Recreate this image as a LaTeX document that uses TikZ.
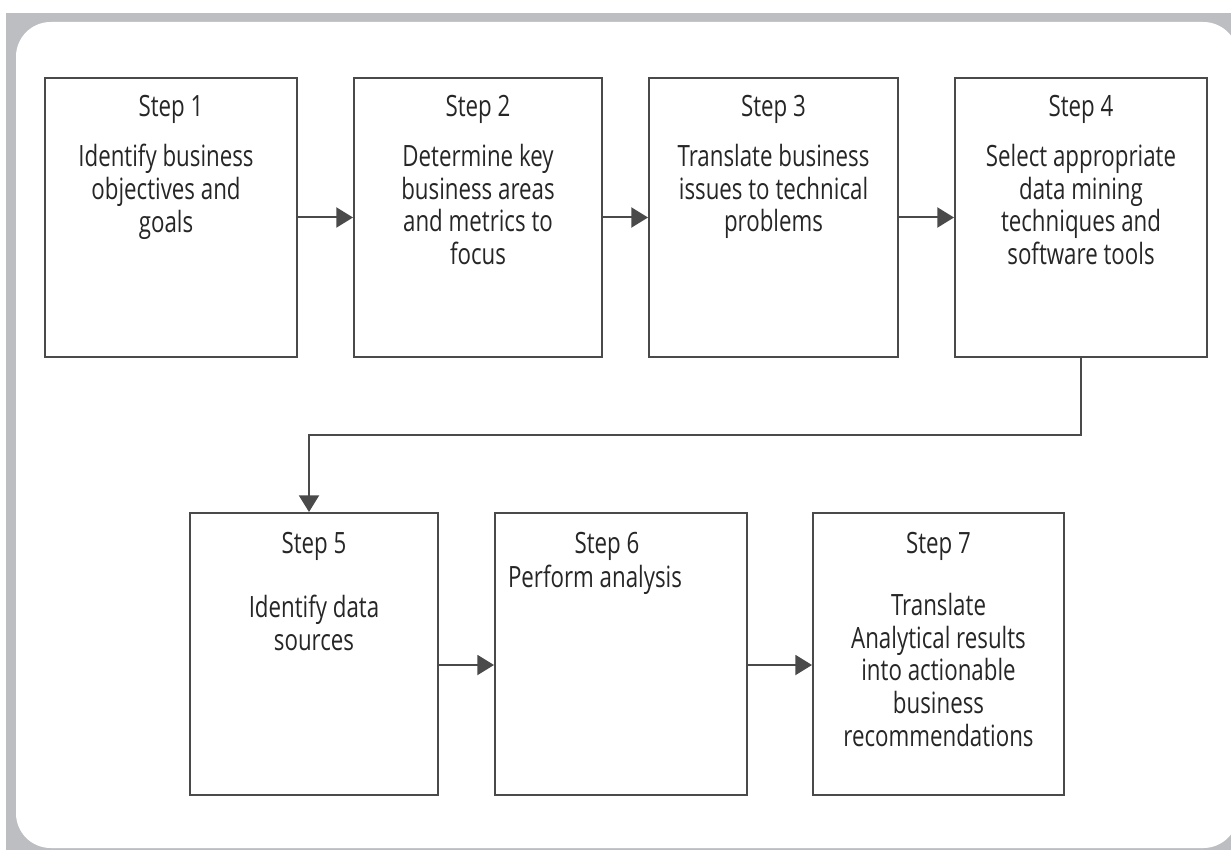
\documentclass[tikz,border=0pt]{standalone}
\usepackage{fontspec}
\setmainfont{Open Sans}[FakeStretch=0.76]
\usetikzlibrary{arrows.meta,calc}
\definecolor{framegray}{HTML}{BDBEC2}
\definecolor{boxgray}{HTML}{4A4A4A}
\definecolor{txt}{HTML}{262626}

\begin{document}
\begin{tikzpicture}[x=0.75pt,y=-0.75pt,
  stepbox/.style={draw=boxgray, line width=1.5pt, fill=white, inner sep=0pt},
  title/.style={text=txt, font=\fontsize{22}{24.5}\selectfont, inner sep=0pt, anchor=base},
  body/.style={text=txt, font=\fontsize{22}{24.5}\selectfont, align=center, inner sep=0pt, anchor=north},
  flow/.style={draw=boxgray, line width=1.5pt, -{Triangle[length=12.5pt, width=15pt]}}]

  % page and frame
  \useasboundingbox (0,0) rectangle (1231,852);
  \fill[white] (0,0) rectangle (1231,852);
  \fill[framegray] (6,13) rectangle (1231,850);
  \begin{scope}
    \clip (0,0) rectangle (1231,852);
    \fill[white, rounded corners=26pt] (16,22) rectangle (1238,848);
  \end{scope}

  % first row of steps
  \node[stepbox, minimum width=189pt, minimum height=209.25pt] (s1) at (171,217.5) {};
  \node[stepbox, minimum width=186pt, minimum height=209.25pt] (s2) at (478,217.5) {};
  \node[stepbox, minimum width=186.75pt, minimum height=209.25pt] (s3) at (773.5,217.5) {};
  \node[stepbox, minimum width=189pt, minimum height=209.25pt] (s4) at (1081,217.5) {};

  % second row of steps
  \node[stepbox, minimum width=186pt, minimum height=211.5pt] (s5) at (314,654) {};
  \node[stepbox, minimum width=189pt, minimum height=211.5pt] (s6) at (621,654) {};
  \node[stepbox, minimum width=188.25pt, minimum height=211.5pt] (s7) at (938.5,654) {};

  % titles
  \node[title] (t1) at (171,117) {Step 1};
  \node[title] (t2) at (478,117) {Step 2};
  \node[title] (t3) at (773.5,117) {Step 3};
  \node[title] (t4) at (1081,117) {Step 4};
  \node[title] (t5) at (314,553) {Step 5};
  \node[title] (t6) at (607,553) {Step 6};
  \node[title] (t7) at (938.5,553) {Step 7};

  % descriptions
  \node[body] (b1) at (166,144) {Identify business\\objectives and\\goals};
  \node[body] (b2) at (478,144) {Determine key\\business areas\\and metrics to\\focus};
  \node[body] (b3) at (773.5,144) {Translate business\\issues to technical\\problems};
  \node[body] (b4) at (1081,144) {Select appropriate\\data mining\\techniques and\\software tools};
  \node[body] (b5) at (314,595) {Identify data\\sources};
  \node[body] (b6) at (595,565) {Perform analysis};
  \node[body] (b7) at (938.5,593) {Translate\\Analytical results\\into actionable\\business\\recommendations};

  % connectors
  \draw[flow] (s1.east) -- (s2.west);
  \draw[flow] (s2.east) -- (s3.west);
  \draw[flow] (s3.east) -- (s4.west);
  \coordinate (turn) at ($(s4.south)+(0,77)$);
  \draw[flow] (s4.south) -- (turn) -| ($(s5.north)+(-5,0)$);
  \draw[flow] ($(s5.east)+(0,11)$) -- ($(s6.west)+(0,11)$);
  \draw[flow] ($(s6.east)+(0,11)$) -- ($(s7.west)+(0,11)$);
\end{tikzpicture}
\end{document}
